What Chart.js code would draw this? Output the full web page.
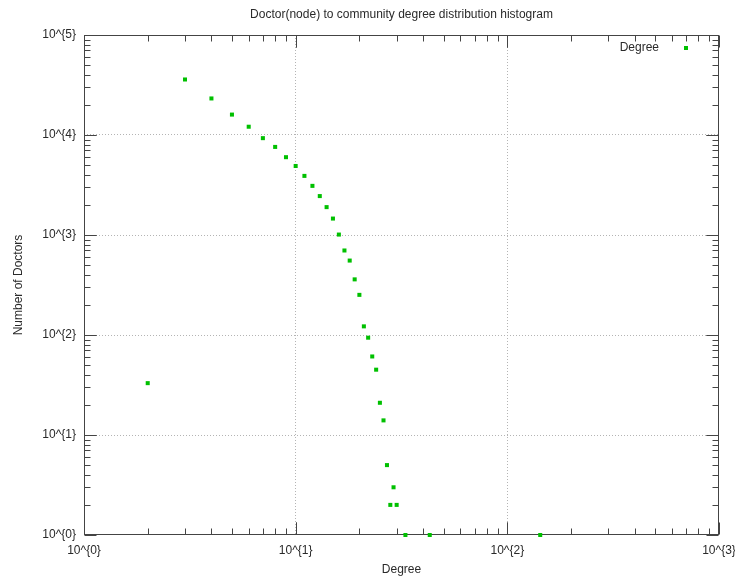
<!DOCTYPE html>
<html>
<head>
<meta charset="utf-8">
<script src="https://cdn.jsdelivr.net/npm/chart.js@4/dist/chart.umd.min.js"></script>
<style>
  body { margin: 0; background: #fff; }
  #wrap { width: 735px; height: 580px; }
</style>
</head>
<body>
<div id="wrap"><canvas id="chart"></canvas></div>
<script>
const chartTitle = 'Doctor(node) to community degree distribution histogram';
const seriesName = 'Degree';
const degrees = [2, 3, 4, 5, 6, 7, 8, 9, 10, 11, 12, 13, 14, 15, 16, 17, 18, 19, 20,
  21, 22, 23, 24, 25, 26, 27, 28, 29, 30, 33, 43, 143];
const doctors = [33, 35900, 23200, 16000, 12100, 9300, 7600, 6000, 4900, 3900, 3100, 2450,
  1900, 1460, 1010, 700, 555, 360, 252, 122, 94, 61, 45, 21, 14, 5, 2, 3, 2, 1, 1, 1];
const xDecades = [1, 10, 100, 1000];
const yDecades = [1, 10, 100, 1000, 10000, 100000];

const green = '#00c000';
const fontFamily = '"Liberation Sans", Arial, sans-serif';
const textColor = '#2a2a2a';

function decadeLabel(v) {
  return '10^{' + Math.round(Math.log10(v)) + '}';
}
function isDecade(v) {
  const l = Math.log10(v);
  return Math.abs(l - Math.round(l)) < 1e-9;
}

// gnuplot-like frame: border box, inward ticks on all sides, title, key
const framePlugin = {
  id: 'frame',
  beforeDatasetsDraw(chart) {
    const { ctx, chartArea: a, scales } = chart;
    const L = Math.round(a.left) + 0.5, R = Math.round(a.right) - 0.5;
    const T = Math.round(a.top) + 0.5, B = Math.round(a.bottom) - 0.5;
    ctx.save();
    ctx.lineWidth = 1;
    ctx.strokeStyle = '#444';
    ctx.beginPath();
    // minor and major ticks
    for (let d = 1; d < 1000; d *= 10) {
      for (let k = 1; k <= 10; k++) {
        const v = d * k;
        const len = (k === 1 || k === 10) ? 12 : 6;
        const px = Math.round(scales.x.getPixelForValue(v)) + 0.5;
        ctx.moveTo(px, B); ctx.lineTo(px, B - len);
        ctx.moveTo(px, T); ctx.lineTo(px, T + len);
      }
    }
    for (let d = 1; d < 100000; d *= 10) {
      for (let k = 1; k <= 10; k++) {
        const v = d * k;
        const len = (k === 1 || k === 10) ? 12 : 6;
        const py = Math.round(scales.y.getPixelForValue(v)) + 0.5;
        ctx.moveTo(L, py); ctx.lineTo(L + len, py);
        ctx.moveTo(R, py); ctx.lineTo(R - len, py);
      }
    }
    ctx.stroke();
    ctx.strokeRect(L, T, R - L, B - T);

    // title
    ctx.fillStyle = textColor;
    ctx.font = '12px ' + fontFamily;
    ctx.textAlign = 'center';
    ctx.textBaseline = 'middle';
    ctx.fillText(chartTitle, (a.left + a.right) / 2, 15);

    // key
    ctx.textAlign = 'right';
    ctx.fillText(seriesName, a.right - 60, a.top + 13);
    ctx.fillStyle = green;
    ctx.fillRect(a.right - 35, a.top + 11, 4, 4);
    ctx.restore();
  }
};

const points = degrees.map((d, i) => ({ x: d, y: doctors[i] }));

const gridColor = n => c =>
  (c.tick && isDecade(c.tick.value) && c.index > 0 && c.index < n - 1) ? '#b4b4b4' : 'rgba(0,0,0,0)';

new Chart(document.getElementById('chart'), {
  type: 'scatter',
  data: {
    datasets: [{
      label: seriesName,
      data: points,
      backgroundColor: green,
      borderColor: green,
      borderWidth: 0,
      pointStyle: 'rect',
      pointRadius: 2.85,
      pointHoverRadius: 2.85,
      clip: false
    }]
  },
  options: {
    responsive: true,
    maintainAspectRatio: false,
    animation: false,
    layout: { padding: { top: 35, right: 16, left: 0, bottom: 0 } },
    plugins: {
      legend: { display: false },
      title: { display: false },
      tooltip: { enabled: false }
    },
    scales: {
      x: {
        type: 'logarithmic',
        min: 1,
        max: 1000,
        afterBuildTicks: s => { s.ticks = xDecades.map(v => ({ value: v })); },
        afterFit: s => { s.height = 45; s.paddingLeft = 0; s.paddingRight = 0; },
        border: { display: false, dash: [1, 2] },
        grid: {
          drawTicks: false,
          color: gridColor(xDecades.length),
          lineWidth: 1
        },
        ticks: {
          autoSkip: false,
          maxRotation: 0,
          padding: 8,
          color: textColor,
          font: { family: fontFamily, size: 12 },
          callback: v => decadeLabel(v)
        },
        title: {
          display: true,
          text: 'Degree',
          color: textColor,
          font: { family: fontFamily, size: 12 },
          padding: { top: 0, bottom: 3 }
        }
      },
      y: {
        type: 'logarithmic',
        min: 1,
        max: 100000,
        afterBuildTicks: s => { s.ticks = yDecades.map(v => ({ value: v })); },
        afterFit: s => { s.width = 84; s.paddingTop = 0; s.paddingBottom = 0; },
        border: { display: false, dash: [1, 2] },
        grid: {
          drawTicks: false,
          color: gridColor(yDecades.length),
          lineWidth: 1
        },
        ticks: {
          autoSkip: false,
          padding: 8,
          color: textColor,
          font: { family: fontFamily, size: 12 },
          callback: v => decadeLabel(v)
        },
        title: {
          display: true,
          text: 'Number of Doctors',
          color: textColor,
          font: { family: fontFamily, size: 12 },
          padding: { top: 11, bottom: 0 }
        }
      }
    }
  },
  plugins: [framePlugin]
});
</script>
</body>
</html>
